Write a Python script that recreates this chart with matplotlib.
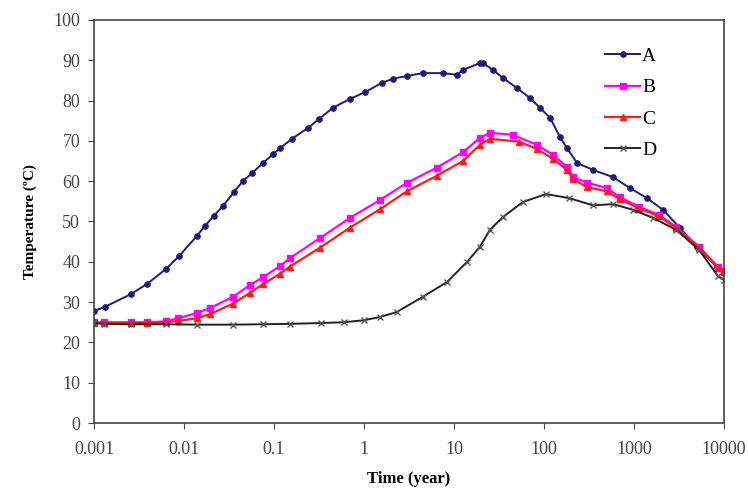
import numpy as np
import matplotlib
matplotlib.use("Agg")
import matplotlib.pyplot as plt
from matplotlib.ticker import FixedLocator, FixedFormatter, NullLocator

# serie A
t_a = [0.001, 0.00132, 0.00258, 0.00388, 0.0063, 0.0088, 0.0139, 0.0171, 0.0215, 0.027,
       0.036, 0.045, 0.057, 0.0755, 0.0975, 0.117, 0.158, 0.239, 0.316, 0.45, 0.70,
       1.03, 1.58, 2.1, 3.0, 4.5, 7.5, 10.8, 12.6, 19.4, 21, 27, 35, 50, 70, 90, 117,
       150, 180, 233, 350, 585, 900, 1390, 2100, 3240, 5000, 8360, 10000]
T_a = [27.8, 28.8, 32.0, 34.5, 38.2, 41.4, 46.4, 48.9, 51.4, 53.8,
       57.3, 60.0, 62.0, 64.5, 66.7, 68.2, 70.5, 73.2, 75.4, 78.2, 80.4,
       82.1, 84.4, 85.4, 86.1, 86.8, 86.8, 86.4, 87.6, 89.3, 89.3, 87.6, 85.6, 83.1, 80.6, 78.2, 75.7,
       71.0, 68.2, 64.5, 62.8, 61.0, 58.3, 55.8, 52.9, 48.4, 43.7, 38.7, 37.5]

# serie B
t_b = [0.001, 0.0013, 0.0026, 0.0039, 0.0063, 0.0086, 0.014, 0.0194, 0.035, 0.054, 0.076,
       0.116, 0.15, 0.325, 0.70, 1.5, 3.0, 6.4, 12.6, 19.4, 25, 45, 83, 127, 180, 212,
       300, 500, 700, 1150, 1900, 2960, 5300, 8600, 10000]
T_b = [25.0, 25.0, 25.0, 25.0, 25.2, 26.0, 27.3, 28.5, 31.3, 34.2, 36.2,
       38.9, 40.9, 45.9, 50.9, 55.3, 59.6, 63.3, 67.2, 70.7, 72.0, 71.5, 69.0, 66.5, 63.5, 61.0,
       59.6, 58.3, 56.0, 53.6, 51.6, 48.6, 43.7, 38.7, 37.8]

# serie C
t_c = [0.001, 0.0013, 0.0026, 0.0039, 0.0063, 0.0086, 0.014, 0.0194, 0.035, 0.054, 0.076,
       0.116, 0.15, 0.325, 0.70, 1.5, 3.0, 6.4, 12.6, 19.4, 25, 53, 83, 127, 180, 212,
       300, 500, 700, 1150, 1900, 2960, 5300, 8600, 10000]
T_c = [24.8, 24.8, 24.8, 24.8, 25.0, 25.3, 26.0, 27.0, 29.6, 32.3, 34.5,
       37.0, 38.8, 43.5, 48.5, 53.0, 57.5, 61.3, 65.0, 69.0, 70.5, 69.8, 68.0, 65.5, 62.8, 60.5,
       58.5, 57.5, 55.5, 53.2, 51.3, 48.3, 43.5, 38.5, 37.5]

# serie D
t_d = [0.001, 0.0013, 0.0026, 0.0063, 0.014, 0.035, 0.076, 0.15, 0.33, 0.6, 1.0, 1.5,
       2.3, 4.5, 8.4, 14, 19.4, 25, 35, 58, 105, 190, 350, 590, 970, 1620, 2960, 5300,
       8600, 10000]
T_d = [24.8, 24.6, 24.5, 24.5, 24.4, 24.4, 24.5, 24.6, 24.8, 25.0, 25.5, 26.3,
       27.5, 31.3, 35.0, 40.0, 43.7, 47.9, 51.1, 54.8, 56.8, 55.8, 54.0, 54.3, 52.9, 50.9, 47.9, 42.9,
       36.4, 35.5]

xticks = [0.001, 0.01, 0.1, 1, 10, 100, 1000, 10000]
xlabels = ["0.001", "0.01", "0.1", "1", "10", "100", "1000", "10000"]

plt.rcParams["font.family"] = ["Liberation Serif", "DejaVu Serif"]

fig = plt.figure(figsize=(7.48, 4.94), dpi=100)
ax = fig.add_axes([0.1257, 0.1437, 0.8422, 0.816])

ax.plot(t_a, T_a, color="#1b1b80", lw=1.4, marker="o", ms=3.8, label="A")
ax.plot(t_b, T_b, color="#ff00ff", lw=1.6, marker="s", ms=5, label="B")
ax.plot(t_c, T_c, color="#ff1a1a", lw=1.6, marker="^", ms=5, label="C")
ax.plot(t_d, T_d, color="#222222", lw=1.4, marker="x", ms=4, mec="#555555", label="D")

ax.set_xscale("log")
ax.set_xlim(0.001, 10000)
ax.set_ylim(0, 100)
ax.xaxis.set_major_locator(FixedLocator(xticks))
ax.xaxis.set_major_formatter(FixedFormatter(xlabels))
ax.xaxis.set_minor_locator(NullLocator())
ax.set_yticks(np.arange(0, 101, 10))

ax.tick_params(axis="both", direction="out", labelsize=13, labelcolor="#444444",
               color="#444444", length=4)
ax.tick_params(axis="x", pad=9)
ax.tick_params(axis="y", pad=6)
for s in ax.spines.values():
    s.set_color("#444444")
    s.set_linewidth(1.2)

ax.set_xlabel("Time (year)", fontsize=12, fontweight="bold", labelpad=9)
ax.set_ylabel("Temperature (ºC)", fontsize=11, fontweight="bold", labelpad=12)

ax.legend(loc="upper right", bbox_to_anchor=(0.92, 0.975), frameon=False, fontsize=14,
          handlelength=1.8, handletextpad=0.1, labelspacing=0.7)

fig.savefig("out.png", dpi=100)
